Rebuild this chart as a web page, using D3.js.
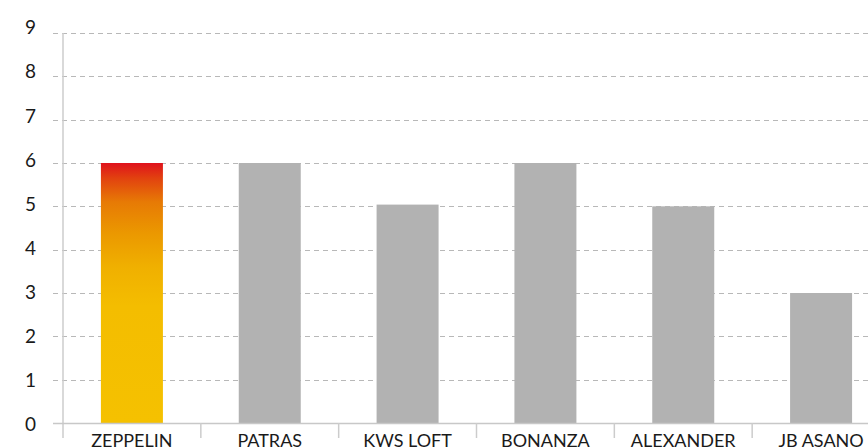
<!DOCTYPE html>
<html>
<head>
<meta charset="utf-8">
<script src="https://cdn.jsdelivr.net/npm/d3@7"></script>
<style>
html,body{margin:0;padding:0;background:#fff;overflow:hidden;}
svg{display:block;}
text{font-family:Lato,"Open Sans",sans-serif;fill:#1a1a1a;}
</style>
</head>
<body>
<svg id="chart" width="868" height="448"></svg>
<script>
const categories = ["ZEPPELIN","PATRAS","KWS LOFT","BONANZA","ALEXANDER","JB ASANO"];
const values = [6, 6, 5.04, 6, 5, 3];
const highlight = ["ZEPPELIN"];
const yTicks = [0,1,2,3,4,5,6,7,8,9];

const svg = d3.select("#chart");
const x0 = 63, xEnd = 890, yTop = 33, yBase = 423;

const x = d3.scaleBand().domain(categories).range([x0, xEnd]).paddingInner(0).paddingOuter(0);
const y = d3.scaleLinear().domain([0, 9]).range([yBase, yTop]);
// tick labels are laid out on their own slightly taller track
const yLab = d3.scaleLinear().domain([0, 9]).range([424, 27]);

const defs = svg.append("defs");
const grad = defs.append("linearGradient").attr("id","hl").attr("x1",0).attr("y1",0).attr("x2",0).attr("y2",1);
[[0,"#df121c"],[0.06,"#e2430f"],[0.15,"#e77a05"],[0.27,"#eb9800"],[0.4,"#f0b000"],[0.55,"#f4bd00"],[1,"#f5c100"]]
  .forEach(([o,c]) => grad.append("stop").attr("offset",o).attr("stop-color",c));

// gridlines
svg.append("g").selectAll("line").data(yTicks.filter(d=>d>0)).join("line")
  .attr("x1",53).attr("x2",868).attr("y1",d=>Math.round(y(d))+0.5).attr("y2",d=>Math.round(y(d))+0.5)
  .attr("stroke","#b8b8b8").attr("stroke-width",1).attr("stroke-dasharray","5,4");

// bars
const bw = 62;
svg.append("g").selectAll("rect").data(categories).join("rect")
  .attr("x",d=>x(d)+(x.bandwidth()-bw)/2)
  .attr("y",(d,i)=>y(values[i]))
  .attr("width",bw)
  .attr("height",(d,i)=>yBase-y(values[i]))
  .attr("fill",d=>highlight.includes(d)?"url(#hl)":"#b2b2b2");

// y axis labels
const yAxis = d3.axisLeft(yLab).tickValues(yTicks).tickSize(0).tickPadding(27);
const ya = svg.append("g").attr("transform",`translate(${x0},0)`).call(yAxis);
ya.select(".domain").remove();
ya.selectAll(".tick line").remove();
ya.selectAll("text").style("font-size","19px").attr("dy","0.36em").attr("fill","#1a1a1a");
svg.append("line").attr("x1",x0).attr("x2",x0).attr("y1",yTop).attr("y2",438)
  .attr("stroke","#cccccc").attr("stroke-width",1.5);

// x axis
svg.append("line").attr("x1",53).attr("x2",868).attr("y1",yBase+0.5).attr("y2",yBase+0.5)
  .attr("stroke","#c8c8c8").attr("stroke-width",1.5);
svg.append("g").selectAll("line").data(categories.slice(1)).join("line")
  .attr("x1",d=>x(d)).attr("x2",d=>x(d)).attr("y1",yBase).attr("y2",438)
  .attr("stroke","#cccccc").attr("stroke-width",1.5);
svg.append("g").selectAll("text").data(categories).join("text")
  .attr("x",d=>x(d)+x.bandwidth()/2).attr("y",446.5)
  .attr("text-anchor","middle").style("font-size","18px")
  .text(d=>d);
</script>
</body>
</html>
